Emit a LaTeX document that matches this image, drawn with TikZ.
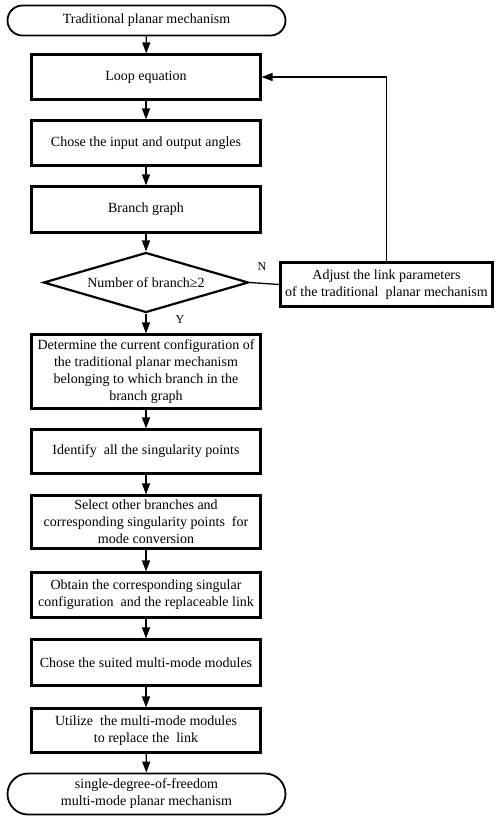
\documentclass[tikz,border=0pt]{standalone}
\usepackage{fontspec}
\setmainfont{Liberation Serif}
\usetikzlibrary{arrows.meta,shapes.geometric,shapes.misc}
\begin{document}
\begin{tikzpicture}[x=1pt,y=-1pt,
  font=\fontsize{14pt}{17pt}\selectfont,
  stepbox/.style={draw, line width=2.2pt, minimum width=229pt, align=center, inner sep=1pt},
  term/.style={draw, line width=1.8pt, rounded rectangle, minimum width=280pt, align=center, inner sep=1pt},
  decide/.style={draw, line width=2.2pt, diamond, minimum width=205pt, minimum height=60pt, inner sep=0pt, aspect=3.4},
  conn/.style={line width=1.3pt},
  arr/.style={conn, -{Triangle[length=11pt,width=8pt]}},
  lbl/.style={font=\fontsize{12pt}{13pt}\selectfont, inner sep=0pt}
]
\useasboundingbox (0,0) rectangle (500,820);
\node[term, minimum height=30pt] (start) at (146.5,20.5) {Traditional planar mechanism};
\node[stepbox, minimum height=45pt] (loop) at (146,77) {Loop equation};
\node[stepbox, minimum height=45pt] (chose) at (146,143) {Chose the input and output angles};
\node[stepbox, minimum height=46pt] (branch) at (146,209.5) {Branch graph};
\node[decide] (dec) at (146,282.5) {Number of branch≥2};
\node[draw, line width=2.2pt, minimum width=212pt, minimum height=44pt, align=center, inner sep=1pt] (adjust) at (386.5,284.5) {Adjust the link parameters\\of the traditional~ planar mechanism};
\node[stepbox, minimum height=74pt] (det) at (146,371.5) {Determine the current configuration of\\the traditional planar mechanism\\belonging to which branch in the\\branch graph};
\node[stepbox, minimum height=44pt] (ident) at (146,451.5) {Identify~ all the singularity points};
\node[stepbox, minimum height=53pt] (sel) at (146,522) {Select other branches and\\corresponding singularity points~ for\\mode conversion};
\node[stepbox, minimum height=45pt] (obt) at (146,595) {Obtain the corresponding singular\\configuration~ and the replaceable link};
\node[stepbox, minimum height=46pt] (suit) at (146,662.5) {Chose the suited multi-mode modules};
\node[stepbox, minimum height=44pt] (util) at (146,730.5) {Utilize~ the multi-mode modules\\to replace the~ link};
\node[term, minimum height=41pt] (stop) at (146.5,794) {single-degree-of-freedom\\multi-mode planar mechanism};

\draw[arr] (start) -- (loop);
\draw[arr] (loop) -- (chose);
\draw[arr] (chose) -- (branch);
\draw[arr] (branch) -- (dec);
\draw[arr] (dec) -- (det);
\draw[arr] (det) -- (ident);
\draw[arr] (ident) -- (sel);
\draw[arr] (sel) -- (obt);
\draw[arr] (obt) -- (suit);
\draw[arr] (suit) -- (util);
\draw[arr] (util) -- (stop);
\draw[conn] (dec.east) -- (adjust.west);
\draw[arr] (adjust.north) |- (loop.east);
\node[lbl] (nlab) at (262,267) {N};
\node[lbl] (ylab) at (180,320) {Y};
\end{tikzpicture}
\end{document}
